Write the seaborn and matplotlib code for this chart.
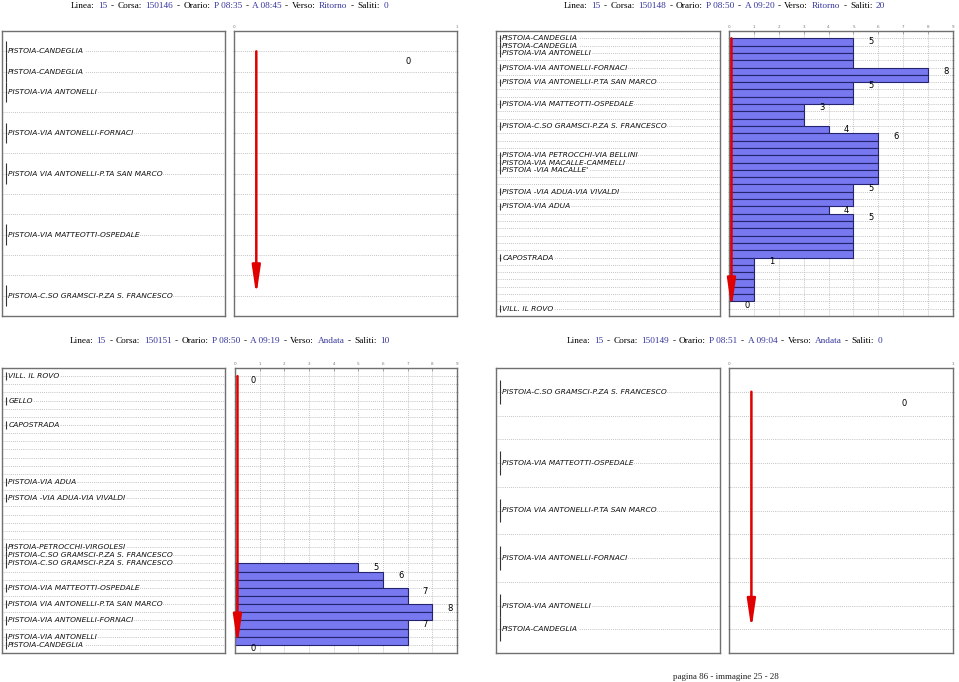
import numpy as np
import pandas as pd
import matplotlib
matplotlib.use("Agg")
import matplotlib.pyplot as plt
import seaborn as sns
from matplotlib.offsetbox import TextArea, HPacker, AnnotationBbox

# ---- data (one panel per "corsa") ----
# panel 1: corsa 150146
c1_info = ["15", "150146", "P 08:35", "A 08:45", "Ritorno", "0"]
c1_label_rows = [0, 1, 2, 4, 6, 9, 12]
c1_label_names = ["PISTOIA-CANDEGLIA", "PISTOIA-CANDEGLIA", "PISTOIA-VIA ANTONELLI",
                  "PISTOIA-VIA ANTONELLI-FORNACI", "PISTOIA VIA ANTONELLI-P.TA SAN MARCO",
                  "PISTOIA-VIA MATTEOTTI-OSPEDALE", "PISTOIA-C.SO GRAMSCI-P.ZA S. FRANCESCO"]
c1_loads = [0, 0, 0, 0, 0, 0, 0, 0, 0, 0, 0, 0, 0]
c1_xmax = 1

# panel 2: corsa 150148
c2_info = ["15", "150148", "P 08:50", "A 09:20", "Ritorno", "20"]
c2_label_rows = [0, 1, 2, 4, 6, 9, 12, 16, 17, 18, 21, 23, 30, 37]
c2_label_names = ["PISTOIA-CANDEGLIA", "PISTOIA-CANDEGLIA", "PISTOIA-VIA ANTONELLI",
                  "PISTOIA-VIA ANTONELLI-FORNACI", "PISTOIA VIA ANTONELLI-P.TA SAN MARCO",
                  "PISTOIA-VIA MATTEOTTI-OSPEDALE", "PISTOIA-C.SO GRAMSCI-P.ZA S. FRANCESCO",
                  "PISTOIA-VIA PETROCCHI-VIA BELLINI", "PISTOIA-VIA MACALLE-CAMMELLI",
                  "PISTOIA -VIA MACALLE'", "PISTOIA -VIA ADUA-VIA VIVALDI", "PISTOIA-VIA ADUA",
                  "CAPOSTRADA", "VILL. IL ROVO"]
c2_loads = [5, 5, 5, 5, 8, 8, 5, 5, 5, 3, 3, 3, 4, 6, 6, 6, 6, 6, 6, 6,
            5, 5, 5, 4, 5, 5, 5, 5, 5, 5, 1, 1, 1, 1, 1, 1, 0, 0]
c2_xmax = 9

# panel 3: corsa 150151
c3_info = ["15", "150151", "P 08:50", "A 09:19", "Andata", "10"]
c3_label_rows = [0, 3, 6, 13, 15, 21, 22, 23, 26, 28, 30, 32, 33]
c3_label_names = ["VILL. IL ROVO", "GELLO", "CAPOSTRADA", "PISTOIA-VIA ADUA",
                  "PISTOIA -VIA ADUA-VIA VIVALDI", "PISTOIA-PETROCCHI-VIRGOLESI",
                  "PISTOIA-C.SO GRAMSCI-P.ZA S. FRANCESCO", "PISTOIA-C.SO GRAMSCI-P.ZA S. FRANCESCO",
                  "PISTOIA-VIA MATTEOTTI-OSPEDALE", "PISTOIA VIA ANTONELLI-P.TA SAN MARCO",
                  "PISTOIA-VIA ANTONELLI-FORNACI", "PISTOIA-VIA ANTONELLI", "PISTOIA-CANDEGLIA"]
c3_loads = [0, 0, 0, 0, 0, 0, 0, 0, 0, 0, 0, 0, 0, 0, 0, 0, 0, 0, 0, 0, 0, 0, 0,
            5, 6, 6, 7, 7, 8, 8, 7, 7, 7, 0]
c3_xmax = 9

# panel 4: corsa 150149
c4_info = ["15", "150149", "P 08:51", "A 09:04", "Andata", "0"]
c4_label_rows = [0, 3, 5, 7, 9, 10]
c4_label_names = ["PISTOIA-C.SO GRAMSCI-P.ZA S. FRANCESCO", "PISTOIA-VIA MATTEOTTI-OSPEDALE",
                  "PISTOIA VIA ANTONELLI-P.TA SAN MARCO", "PISTOIA-VIA ANTONELLI-FORNACI",
                  "PISTOIA-VIA ANTONELLI", "PISTOIA-CANDEGLIA"]
c4_loads = [0, 0, 0, 0, 0, 0, 0, 0, 0, 0, 0]
c4_xmax = 1

footer = "pagina 86 - immagine 25 - 28"

# ---- style ----
sns.set_theme(style="white")
plt.rcParams["font.family"] = ["DejaVu Sans"]
W, H = 959, 682
fig = plt.figure(figsize=(W / 100, H / 100), dpi=100)

GRID = dict(color="#b0b0b0", linestyle=(0, (1, 1.5)), linewidth=0.6)
SPINE = "#707070"
BAR_FILL = "#7878f0"
BAR_EDGE = "#242470"
VALUE_BLUE = "#35359c"


def px_axes(x0, x1, y0, y1):
    return fig.add_axes([x0 / W, 1 - y1 / H, (x1 - x0) / W, (y1 - y0) / H])


def title(xc, yc, info):
    parts = [("Linea:", "black"), (info[0], VALUE_BLUE), ("-", "black"),
             ("Corsa:", "black"), (info[1], VALUE_BLUE), ("-", "black"),
             ("Orario:", "black"), (info[2], VALUE_BLUE), ("-", "black"),
             (info[3], VALUE_BLUE), ("-", "black"), ("Verso:", "black"),
             (info[4], VALUE_BLUE), ("-", "black"), ("Saliti:", "black"),
             (info[5], VALUE_BLUE)]
    kids = [TextArea(s, textprops=dict(color=c, fontsize=6.7, family="Liberation Serif"))
            for s, c in parts]
    box = HPacker(children=kids, align="baseline", pad=0, sep=2.5)
    ab = AnnotationBbox(box, (xc / W, 1 - yc / H), xycoords="figure fraction",
                        frameon=False, box_alignment=(0.5, 0.5))
    fig.add_artist(ab)


def panel(xl, xr, y0, y1, info, label_rows, label_names, loads, xmax, title_y):
    n = len(loads)
    ax_n = px_axes(xl[0], xl[1], y0, y1)
    ax_b = px_axes(xr[0], xr[1], y0, y1)

    # --- stop names ---
    ax_n.set_xlim(0, 1)
    ax_n.set_ylim(n, -1)
    ax_n.set_yticks(range(n))
    ax_n.set_yticks(label_rows, minor=True)
    ax_n.set_xticks([])
    ax_n.yaxis.grid(True, which="major", **GRID)
    ax_n.tick_params(axis="y", which="major", length=0, labelleft=False)
    ax_n.tick_params(axis="y", which="minor", length=3, width=0.6, direction="inout",
                     color="#444444", left=True)
    for r, name in zip(label_rows, label_names):
        ax_n.vlines(0.016, r - 0.5, r + 0.5, color="#333333", lw=0.8, zorder=4)
        ax_n.text(0.028, r, name, va="center", ha="left", fontsize=5.4, style="italic",
                  color="#111111", zorder=3,
                  bbox=dict(facecolor="white", edgecolor="none", pad=0.2))

    # --- load bars ---
    df = pd.DataFrame({"pos": np.arange(n) + 0.5, "load": loads})
    df = df[df["load"] > 0]
    if len(df):
        sns.barplot(data=df, x="load", y="pos", orient="h", native_scale=True,
                    width=1.0, color=BAR_FILL, saturation=1, edgecolor=BAR_EDGE,
                    linewidth=0.8, errorbar=None, ax=ax_b, zorder=2)
    ax_b.set_xlim(0, xmax)
    ax_b.set_ylim(n, -1)
    ax_b.set_xlabel("")
    ax_b.set_ylabel("")
    ax_b.set_yticks(range(n))
    ax_b.set_yticklabels([])
    ax_b.set_xticks(range(xmax + 1))
    ax_b.xaxis.tick_top()
    ax_b.tick_params(axis="x", labelsize=3, colors="#777777", length=2, width=0.4,
                     direction="in", pad=1.5)
    ax_b.tick_params(axis="y", length=2, width=0.4, direction="inout", color="#888888",
                     left=True, right=True)
    ax_b.yaxis.grid(True, **GRID)
    ax_b.xaxis.grid(True, **GRID)
    ax_b.set_axisbelow(True)

    dx = 0.72 if xmax > 1 else 0.78
    for i, v in enumerate(loads):
        if i == 0 or v != loads[i - 1]:
            ax_b.text(v + dx, i + 0.5, str(v), ha="center", va="center",
                      fontsize=6, color="black", zorder=5)

    ax_b.annotate("", xy=(0.1, n - 1), xytext=(0.1, 0),
                  arrowprops=dict(arrowstyle="-|>,head_length=1.7,head_width=0.25",
                                  color="#e00000", lw=1.8, shrinkA=0, shrinkB=0,
                                  mutation_scale=10), zorder=6)

    for a in (ax_n, ax_b):
        for s in a.spines.values():
            s.set_color(SPINE)
            s.set_linewidth(1.0)

    title((xl[0] + xr[1]) / 2, title_y, info)


panel((2, 225), (234, 457), 31, 316, c1_info, c1_label_rows, c1_label_names, c1_loads, c1_xmax, 6.5)
panel((496, 720), (729, 953), 31, 316, c2_info, c2_label_rows, c2_label_names, c2_loads, c2_xmax, 6.5)
panel((2, 225), (235, 457), 368, 653, c3_info, c3_label_rows, c3_label_names, c3_loads, c3_xmax, 341)
panel((496, 720), (729, 953), 368, 653, c4_info, c4_label_rows, c4_label_names, c4_loads, c4_xmax, 341)

fig.text(726 / W, 1 - 677 / H, footer, ha="center", va="center", fontsize=6.5,
         family="Liberation Serif", color="#222222")

fig.savefig("out.png", dpi=100)
